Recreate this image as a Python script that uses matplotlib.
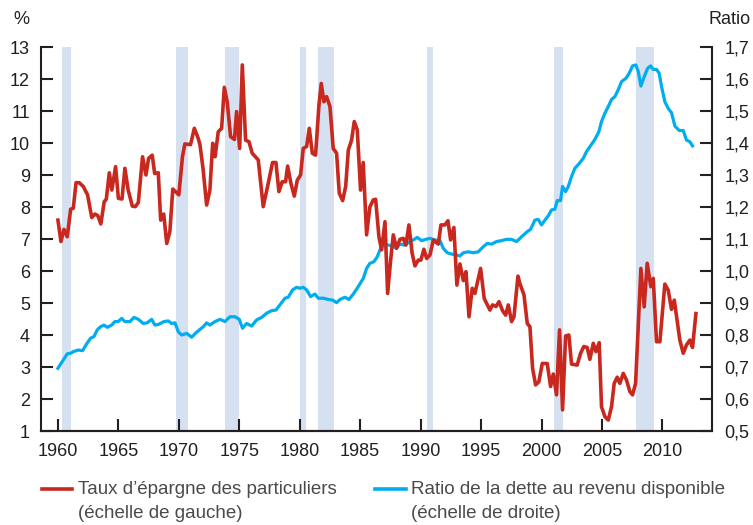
import matplotlib
matplotlib.use("Agg")
import matplotlib.pyplot as plt
import matplotlib.ticker as mticker
from matplotlib.lines import Line2D

plt.rcParams['font.family'] = ['Liberation Sans', 'DejaVu Sans']

# Taux d'epargne des particuliers (%), echelle de gauche
red_t = [1960.0, 1960.25, 1960.5, 1960.77, 1961.05, 1961.27, 1961.5, 1961.76, 1962.1, 1962.45,
         1962.8, 1963.06, 1963.3, 1963.55, 1963.83, 1964.0, 1964.25, 1964.46, 1964.77, 1965.0,
         1965.3, 1965.54, 1965.8, 1966.15, 1966.4, 1966.65, 1967.0, 1967.28, 1967.5, 1967.8,
         1968.0, 1968.3, 1968.5, 1968.75, 1969.0, 1969.26, 1969.5, 1969.73, 1970.0, 1970.3,
         1970.5, 1970.97, 1971.28, 1971.6, 1971.75, 1972.0, 1972.3, 1972.57, 1972.8, 1973.0,
         1973.26, 1973.54, 1973.76, 1974.0, 1974.28, 1974.6, 1974.78, 1975.03, 1975.25, 1975.52,
         1975.8, 1976.07, 1976.57, 1976.98, 1977.34, 1977.75, 1978.03, 1978.28, 1978.55, 1978.83,
         1979.0, 1979.27, 1979.55, 1979.8, 1980.07, 1980.29, 1980.57, 1980.79, 1981.04, 1981.31,
         1981.59, 1981.78, 1982.0, 1982.22, 1982.5, 1982.77, 1983.05, 1983.27, 1983.55, 1983.8,
         1984.02, 1984.29, 1984.51, 1984.76, 1985.03, 1985.25, 1985.53, 1985.8, 1986.08, 1986.28,
         1986.55, 1986.77, 1987.05, 1987.27, 1987.52, 1987.74, 1988.0, 1988.29, 1988.56, 1988.78,
         1989.03, 1989.3, 1989.53, 1989.8, 1990.02, 1990.27, 1990.5, 1990.77, 1991.05, 1991.46,
         1991.68, 1992.01, 1992.26, 1992.48, 1992.75, 1993.0, 1993.25, 1993.53, 1993.75, 1994.0,
         1994.27, 1994.49, 1994.96, 1995.26, 1995.73, 1995.95, 1996.23, 1996.48, 1996.78, 1997.03,
         1997.25, 1997.52, 1997.72, 1998.05, 1998.21, 1998.55, 1998.82, 1999.04, 1999.26, 1999.51,
         1999.78, 2000.06, 2000.47, 2000.75, 2000.97, 2001.24, 2001.49, 2001.74, 2001.99, 2002.26,
         2002.48, 2002.95, 2003.23, 2003.5, 2003.78, 2004.0, 2004.28, 2004.5, 2004.77, 2004.96,
         2005.24, 2005.52, 2005.79, 2006.01, 2006.26, 2006.48, 2006.76, 2007.03, 2007.31, 2007.53,
         2007.78, 2008.0, 2008.22, 2008.49, 2008.74, 2009.04, 2009.24, 2009.51, 2009.79, 2010.2,
         2010.48, 2010.75, 2010.98, 2011.44, 2011.72, 2011.99, 2012.27, 2012.49, 2012.77]
red_v = [7.59, 6.92, 7.30, 7.07, 7.93, 7.96, 8.76, 8.76, 8.64, 8.38,
         7.67, 7.78, 7.73, 7.47, 8.17, 8.24, 9.07, 8.53, 9.26, 8.27,
         8.25, 9.21, 8.55, 8.03, 8.01, 8.14, 9.57, 9.00, 9.52, 9.62,
         9.05, 9.07, 7.59, 7.78, 6.86, 7.23, 8.56, 8.48, 8.38, 9.57,
         9.97, 9.95, 10.46, 10.15, 9.94, 9.21, 8.06, 8.53, 9.99, 9.57,
         10.35, 10.46, 11.74, 11.29, 10.20, 10.11, 10.98, 9.83, 12.44, 10.09,
         10.04, 9.68, 9.47, 8.01, 8.64, 9.39, 9.39, 8.48, 8.79, 8.79,
         9.28, 8.74, 8.34, 8.84, 9.00, 9.83, 9.89, 10.46, 9.68, 9.62,
         11.19, 11.86, 11.29, 11.45, 11.14, 9.83, 9.68, 8.43, 8.20, 8.64,
         9.78, 10.09, 10.67, 10.41, 8.53, 9.39, 7.13, 8.00, 8.22, 8.24,
         7.07, 6.66, 7.54, 5.30, 6.34, 7.13, 6.71, 6.99, 7.02, 6.81,
         7.44, 6.55, 6.16, 6.34, 6.34, 6.68, 6.39, 6.50, 6.97, 6.84,
         7.44, 7.44, 7.57, 6.97, 7.36, 5.56, 6.22, 5.70, 5.98, 4.57,
         5.46, 5.30, 6.08, 5.14, 4.78, 4.94, 4.89, 5.04, 4.76, 4.62,
         4.94, 4.42, 4.57, 5.84, 5.61, 5.25, 4.36, 4.26, 2.96, 2.44,
         2.54, 3.11, 3.11, 2.39, 2.78, 2.13, 4.16, 1.66, 3.97, 4.00,
         3.09, 3.06, 3.43, 3.64, 3.61, 3.24, 3.74, 3.48, 3.76, 1.76,
         1.45, 1.34, 1.76, 2.49, 2.68, 2.49, 2.80, 2.59, 2.23, 2.13,
         2.49, 4.26, 6.08, 4.88, 6.24, 5.51, 5.77, 3.79, 3.79, 5.59,
         5.40, 4.80, 5.09, 3.84, 3.43, 3.69, 3.84, 3.61, 4.67]

# Ratio de la dette au revenu disponible, echelle de droite
blue_t = [1960.0, 1960.44, 1960.77, 1961.05, 1961.27, 1961.68, 1962.04, 1962.37, 1962.7, 1962.98,
          1963.25, 1963.53, 1963.8, 1964.08, 1964.44, 1964.71, 1964.99, 1965.27, 1965.54, 1965.96,
          1966.29, 1966.65, 1967.06, 1967.39, 1967.75, 1968.02, 1968.38, 1968.77, 1969.13, 1969.4,
          1969.68, 1969.96, 1970.23, 1970.65, 1971.06, 1971.42, 1971.7, 1972.03, 1972.3, 1972.57,
          1973.0, 1973.4, 1973.81, 1974.23, 1974.64, 1975.0, 1975.27, 1975.6, 1976.02, 1976.43,
          1976.85, 1977.26, 1977.67, 1978.03, 1978.36, 1978.78, 1979.05, 1979.41, 1979.74, 1980.02,
          1980.29, 1980.57, 1980.9, 1981.26, 1981.53, 1981.95, 1982.36, 1982.72, 1983.05, 1983.33,
          1983.74, 1984.07, 1984.43, 1984.7, 1984.98, 1985.26, 1985.53, 1985.8, 1986.14, 1986.42,
          1986.69, 1986.97, 1987.32, 1987.68, 1988.01, 1988.29, 1988.7, 1989.12, 1989.39, 1989.72,
          1990.08, 1990.44, 1990.77, 1991.18, 1991.6, 1991.87, 1992.2, 1992.56, 1992.98, 1993.25,
          1993.53, 1993.94, 1994.35, 1994.77, 1995.13, 1995.51, 1995.87, 1996.28, 1996.7, 1997.11,
          1997.52, 1997.94, 1998.35, 1998.82, 1999.09, 1999.45, 1999.73, 2000.0, 2000.28, 2000.55,
          2000.83, 2001.1, 2001.3, 2001.57, 2001.74, 2001.99, 2002.21, 2002.48, 2002.76, 2003.12,
          2003.45, 2003.72, 2004.05, 2004.41, 2004.74, 2004.96, 2005.24, 2005.52, 2005.79, 2006.07,
          2006.34, 2006.62, 2006.98, 2007.25, 2007.53, 2007.8, 2008.0, 2008.22, 2008.47, 2008.77,
          2009.02, 2009.24, 2009.51, 2009.73, 2009.93, 2010.2, 2010.48, 2010.75, 2011.03, 2011.39,
          2011.72, 2011.99, 2012.27, 2012.49]
blue_v = [0.696, 0.722, 0.741, 0.743, 0.748, 0.753, 0.751, 0.772, 0.790, 0.795,
          0.816, 0.826, 0.831, 0.824, 0.831, 0.842, 0.842, 0.852, 0.842, 0.842,
          0.855, 0.849, 0.836, 0.838, 0.849, 0.831, 0.834, 0.842, 0.844, 0.836,
          0.838, 0.810, 0.800, 0.805, 0.793, 0.807, 0.816, 0.826, 0.838, 0.831,
          0.842, 0.849, 0.842, 0.857, 0.857, 0.849, 0.821, 0.836, 0.828, 0.847,
          0.855, 0.868, 0.876, 0.878, 0.894, 0.915, 0.918, 0.941, 0.949, 0.946,
          0.949, 0.941, 0.920, 0.928, 0.915, 0.915, 0.911, 0.909, 0.901, 0.911,
          0.918, 0.911, 0.928, 0.943, 0.960, 0.977, 1.008, 1.024, 1.029, 1.045,
          1.071, 1.086, 1.081, 1.078, 1.071, 1.084, 1.081, 1.092, 1.097, 1.105,
          1.095, 1.099, 1.102, 1.097, 1.095, 1.071, 1.057, 1.053, 1.050, 1.047,
          1.057, 1.060, 1.057, 1.060, 1.074, 1.086, 1.084, 1.092, 1.095, 1.099,
          1.099, 1.092, 1.107, 1.123, 1.130, 1.159, 1.161, 1.144, 1.159, 1.172,
          1.191, 1.193, 1.220, 1.220, 1.264, 1.248, 1.264, 1.295, 1.321, 1.336,
          1.352, 1.373, 1.391, 1.411, 1.435, 1.467, 1.493, 1.514, 1.536, 1.545,
          1.566, 1.592, 1.602, 1.618, 1.641, 1.644, 1.623, 1.578, 1.605, 1.633,
          1.641, 1.630, 1.630, 1.618, 1.576, 1.529, 1.508, 1.495, 1.453, 1.439,
          1.439, 1.409, 1.404, 1.391]

# periodes de recession (debut, fin)
rec_start = [1960.3, 1969.8, 1973.8, 1980.0, 1981.5, 1990.55, 2001.0, 2007.8]
rec_end = [1961.05, 1970.8, 1975.0, 1980.5, 1982.8, 1991.05, 2001.8, 2009.3]

x_ticks = list(range(1960, 2011, 5))
left_ticks = list(range(1, 14))
right_ticks = [0.5, 0.6, 0.7, 0.8, 0.9, 1.0, 1.1, 1.2, 1.3, 1.4, 1.5, 1.6, 1.7]

red = '#c8281e'
blue = '#00adef'
band = '#d5e0f1'
dark = '#231f20'

fig = plt.figure(figsize=(7.53, 5.25), dpi=100)
ax = fig.add_axes([41/753, 1 - 431/525, (712-41)/753, (431-47)/525])
ax2 = ax.twinx()
ax.set_zorder(ax2.get_zorder() + 1)
ax.patch.set_visible(False)

for a, b in zip(rec_start, rec_end):
    ax2.axvspan(a, b, color=band, lw=0, zorder=0)

ax2.plot(blue_t, blue_v, color=blue, lw=2.3, solid_joinstyle='round', zorder=2)
ax.plot(red_t, red_v, color=red, lw=2.6, solid_joinstyle='round', zorder=3)

ax.set_xlim(1958.6, 2014.1)
ax.set_ylim(1, 13)
ax2.set_ylim(0.5, 1.7)
ax.set_xticks(x_ticks)
ax.set_yticks(left_ticks)
ax2.set_yticks(right_ticks)
ax2.yaxis.set_major_formatter(mticker.FuncFormatter(lambda v, p: ('%.1f' % v).replace('.', ',')))

fs = 13
for a in (ax, ax2):
    a.spines['top'].set_visible(False)
    for s in ('left', 'right', 'bottom'):
        a.spines[s].set_color(dark)
        a.spines[s].set_linewidth(1.5)
    a.tick_params(direction='in', length=8.5, width=1.5, color=dark,
                  labelsize=fs, labelcolor=dark)
ax.tick_params(axis='y', pad=8)
ax.tick_params(axis='x', pad=9)
ax2.tick_params(axis='y', pad=9)
ax2.spines['left'].set_visible(False)
ax.spines['right'].set_visible(False)

fig.text(13/753, 1 - 20/525, '%', fontsize=fs, color=dark, va='center', ha='left')
fig.text(751/753, 1 - 20/525, 'Ratio', fontsize=fs, color=dark, va='center', ha='right')

# legende
txt = '#4a4a4a'
lfs = 13.5
fig.add_artist(Line2D([42/753, 72/753], [1 - 489/525] * 2, color=red, lw=2.6))
fig.add_artist(Line2D([375/753, 406/753], [1 - 489/525] * 2, color=blue, lw=2.6))
fig.text(78/753, 1 - 489/525, "Taux d\u2019épargne des particuliers", fontsize=lfs,
         color=txt, va='center', ha='left')
fig.text(78/753, 1 - 513/525, "(échelle de gauche)", fontsize=lfs,
         color=txt, va='center', ha='left')
fig.text(411/753, 1 - 489/525, "Ratio de la dette au revenu disponible", fontsize=lfs,
         color=txt, va='center', ha='left')
fig.text(411/753, 1 - 513/525, "(échelle de droite)", fontsize=lfs,
         color=txt, va='center', ha='left')

fig.savefig('out.png', dpi=100)
